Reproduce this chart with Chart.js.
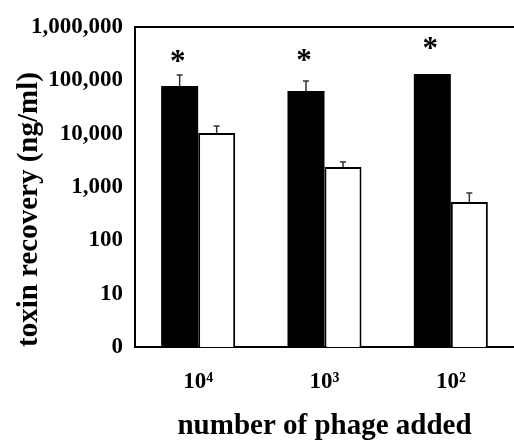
<!DOCTYPE html>
<html lang="en">
  <head>
    <meta charset="UTF-8" />
    <title>Toxin recovery vs phage added</title>
    <script src="https://cdn.jsdelivr.net/npm/chart.js"></script>
    <style>
      html,
      body {
        margin: 0;
        padding: 0;
        background: #fff;
      }
      .chart-box {
        position: relative;
        width: 514px;
        height: 440px;
      }
    </style>
  </head>
  <body>
    <div class="chart-box">
      <canvas id="recoveryChart"></canvas>
    </div>

    <script>
      // categories and values
      const phageLabels = ["10\u2074", "10\u00B3", "10\u00B2"];
      const blackValues = [78000, 63000, 131000];
      const whiteValues = [10300, 2370, 522];
      // upper end of the error bars (null = none drawn)
      const blackErrTop = [126000, 97000, null];
      const whiteErrTop = [13900, 2950, 770];
      // level of the significance asterisk above each black bar
      const starLevels = [286000, 299000, 500000];
      // y axis ticks (the bottom "0" sits at 1 on the log scale)
      const yTickValues = [1, 10, 100, 1000, 10000, 100000, 1000000];
      const yTickLabels = ["0", "10", "100", "1,000", "10,000", "100,000", "1,000,000"];

      const tickFont = { family: "'Liberation Serif', 'DejaVu Serif'", weight: "bold", size: 23 };
      const titleFont = { family: "'Liberation Serif'", weight: "bold", size: 29 };

      // top frame line, error bars and asterisks
      const extrasPlugin = {
        id: "extras",
        afterDatasetsDraw(chart) {
          const { ctx, chartArea, scales } = chart;
          const y = scales.y;
          ctx.save();

          ctx.strokeStyle = "#000";
          ctx.lineWidth = 2;
          ctx.beginPath();
          ctx.moveTo(chartArea.left, chartArea.top);
          ctx.lineTo(chartArea.right, chartArea.top);
          ctx.stroke();

          const errSets = [blackErrTop, whiteErrTop];
          errSets.forEach((errs, di) => {
            const meta = chart.getDatasetMeta(di);
            errs.forEach((v, i) => {
              if (v == null) return;
              const bar = meta.data[i];
              const top = y.getPixelForValue(v);
              ctx.strokeStyle = "#333";
              ctx.lineWidth = 1.5;
              ctx.beginPath();
              ctx.moveTo(bar.x, bar.y);
              ctx.lineTo(bar.x, top);
              ctx.moveTo(bar.x - 3, top);
              ctx.lineTo(bar.x + 3, top);
              ctx.stroke();
            });
          });

          const blackMeta = chart.getDatasetMeta(0);
          ctx.fillStyle = "#000";
          ctx.font = "bold 31px 'Liberation Serif'";
          ctx.textAlign = "center";
          ctx.textBaseline = "alphabetic";
          starLevels.forEach((v, i) => {
            const bar = blackMeta.data[i];
            ctx.fillText("*", bar.x - 2, y.getPixelForValue(v) + 15);
          });

          ctx.restore();
        },
      };

      new Chart(document.getElementById("recoveryChart"), {
        type: "bar",
        data: {
          labels: phageLabels,
          datasets: [
            {
              label: "black",
              data: blackValues,
              backgroundColor: "#000",
              borderWidth: 0,
            },
            {
              label: "white",
              data: whiteValues,
              backgroundColor: "#fff",
              borderColor: "#000",
              borderWidth: 2,
              borderSkipped: "bottom",
            },
          ],
        },
        options: {
          responsive: true,
          maintainAspectRatio: false,
          animation: false,
          layout: { padding: { top: 27, right: 0, left: 0, bottom: 0 } },
          datasets: {
            bar: { categoryPercentage: 0.586, barPercentage: 1.0 },
          },
          plugins: {
            legend: { display: false },
            tooltip: { enabled: false },
          },
          scales: {
            x: {
              grid: { display: false, drawTicks: false },
              border: { display: true, color: "#000", width: 2 },
              ticks: { color: "#000", font: tickFont, padding: 21 },
              title: {
                display: true,
                text: "number of phage added",
                color: "#000",
                font: Object.assign({ lineHeight: 0.95 }, titleFont),
                padding: { top: 0, bottom: 0 },
              },
              afterFit(scale) {
                scale.height = 93;
              },
            },
            y: {
              type: "logarithmic",
              min: 1,
              max: 1000000,
              grid: { display: false, drawTicks: false },
              border: { display: true, color: "#000", width: 2 },
              ticks: {
                color: "#000",
                font: tickFont,
                padding: 12,
                callback: (v) => {
                  const i = yTickValues.indexOf(v);
                  return i >= 0 ? yTickLabels[i] : "";
                },
              },
              afterBuildTicks(scale) {
                scale.ticks = yTickValues.map((v) => ({ value: v }));
              },
              title: {
                display: true,
                text: "toxin recovery (ng/ml)",
                align: "start",
                color: "#000",
                font: titleFont,
                padding: { top: 12, bottom: 0 },
              },
              afterFit(scale) {
                scale.width = 135;
              },
            },
          },
        },
        plugins: [extrasPlugin],
      });
    </script>
  </body>
</html>
